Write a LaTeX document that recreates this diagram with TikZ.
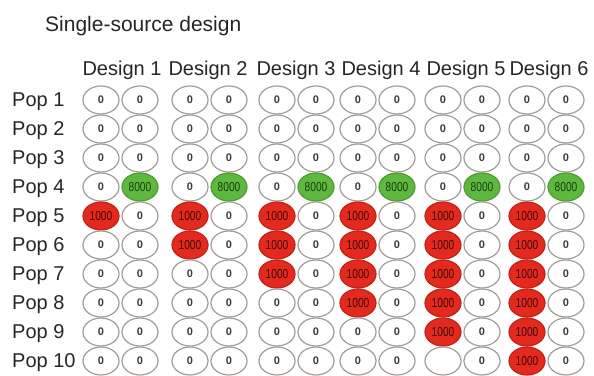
\documentclass[tikz,border=0pt]{standalone}
\usepackage{fontspec}
\setmainfont{Liberation Sans}
\newfontfamily\narrowfont[FakeStretch=0.78]{Liberation Sans}
\usetikzlibrary{shapes.geometric}
\definecolor{wellgray}{HTML}{A29C99}
\definecolor{srcred}{HTML}{E4291E}
\definecolor{sinkgreen}{HTML}{5DB83D}
\definecolor{redtext}{HTML}{3D0806}
\definecolor{greentext}{HTML}{1C3F10}
\definecolor{zerotext}{HTML}{3A3A3A}
\begin{document}
\begin{tikzpicture}[x=1pt,y=-1pt,
  lbl/.style={anchor=base,inner sep=0pt,font=\fontsize{20}{24}\selectfont,text=black!85},
  well/.style={ellipse,draw=wellgray,line width=1.2pt,minimum width=36pt,minimum height=28pt,
    inner sep=0pt,text=zerotext,font=\bfseries\fontsize{11}{11}\selectfont},
  src/.style={well,fill=srcred,draw=srcred!85!black,text=redtext,font=\narrowfont\fontsize{13}{13}\selectfont},
  sink/.style={well,fill=sinkgreen,draw=sinkgreen!85!black,text=greentext,font=\narrowfont\fontsize{13}{13}\selectfont}]
\useasboundingbox (0,0) rectangle (594,375);
% title
\node[lbl,anchor=base west,font=\fontsize{21}{24}\selectfont] (title) at (45,31) {Single-source design};
% row labels
\foreach \r in {1,...,10}{
  \node[lbl,anchor=base west] (pop\r) at (12,{106+29*(\r-1)}) {Pop \r};
}
% designs: two wells per population
\foreach \d/\x/\lx in {1/101/122,2/190/208,3/277/296,4/358/381,5/443/466,6/527/549}{
  \node[lbl] (design\d) at (\lx,75) {Design \d};
  \foreach \r in {1,...,10}{
    \pgfmathsetmacro\y{100+29*(\r-1)}
    \pgfmathtruncatemacro\last{4+\d}
    \def\wellstyle{well}\def\wellval{0}
    \ifnum\r>4 \ifnum\r>\last\else \def\wellstyle{src}\def\wellval{1000}\fi\fi
    \ifnum\d=5 \ifnum\r=10 \def\wellval{}\fi\fi
    \node[\wellstyle] (w\d-\r-a) at (\x,\y) {\wellval};
    \ifnum\r=4
      \node[sink] (w\d-\r-b) at (\x+39,\y) {8000};
    \else
      \node[well] (w\d-\r-b) at (\x+39,\y) {0};
    \fi
  }
}
\end{tikzpicture}
\end{document}
